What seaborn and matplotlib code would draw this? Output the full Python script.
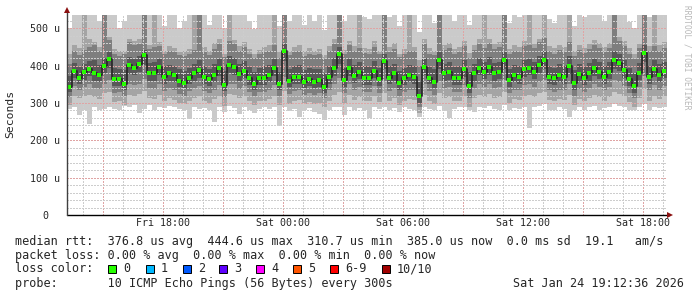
import numpy as np
import pandas as pd
import matplotlib
matplotlib.use("Agg")
import matplotlib.pyplot as plt
import matplotlib.dates as mdates
from matplotlib.ticker import FuncFormatter, MultipleLocator
from matplotlib.patches import Rectangle
import seaborn as sns

# ---------------- data (microseconds) ----------------
start_time = "2026-01-23 13:12:36"
n_steps = 120  # 15 minute steps

median = [344, 386, 368, 384, 391, 381, 375, 399, 418, 364, 364, 351, 402, 395, 404, 428, 379, 379, 397, 370,
          379, 374, 360, 354, 368, 379, 388, 370, 364, 375, 395, 348, 402, 397, 378, 386, 366, 351, 366, 366,
          375, 395, 352, 440, 360, 370, 370, 357, 363, 357, 361, 344, 370, 395, 430, 361, 393, 372, 384, 366,
          366, 386, 364, 413, 368, 379, 353, 366, 375, 370, 318, 397, 368, 357, 415, 379, 382, 366, 366, 390,
          345, 379, 395, 384, 397, 379, 384, 415, 361, 375, 370, 390, 395, 384, 402, 415, 370, 366, 375, 370,
          400, 353, 378, 366, 379, 393, 384, 370, 384, 415, 406, 388, 363, 345, 381, 435, 370, 390, 375, 386]

ping7 = [372, 408, 396, 405, 412, 414, 402, 420, 436, 395, 392, 388, 424, 418, 425, 442, 408, 410, 418, 398,
         402, 400, 392, 386, 395, 405, 414, 398, 392, 404, 418, 385, 425, 420, 405, 412, 396, 384, 395, 398,
         402, 418, 384, 458, 392, 398, 402, 388, 395, 390, 392, 380, 400, 420, 450, 395, 418, 402, 410, 398,
         396, 412, 394, 432, 398, 405, 386, 395, 402, 400, 356, 420, 396, 390, 436, 405, 410, 396, 398, 414,
         382, 405, 420, 410, 422, 406, 410, 436, 392, 402, 398, 414, 418, 410, 425, 438, 400, 395, 404, 398,
         425, 388, 405, 396, 406, 418, 410, 398, 410, 438, 430, 414, 394, 380, 408, 455, 400, 415, 404, 410]

ping8 = [405, 440, 428, 442, 450, 455, 438, 540, 468, 432, 425, 430, 462, 455, 458, 540, 445, 450, 452, 430,
         438, 436, 428, 425, 432, 442, 540, 436, 428, 445, 458, 422, 465, 458, 440, 450, 432, 420, 430, 436,
         440, 455, 420, 540, 428, 436, 440, 425, 432, 428, 430, 418, 438, 458, 540, 430, 455, 440, 448, 435,
         432, 450, 430, 540, 436, 445, 422, 432, 440, 438, 398, 458, 432, 428, 540, 442, 448, 432, 436, 452,
         420, 442, 458, 448, 460, 445, 450, 540, 430, 440, 436, 452, 455, 448, 462, 475, 438, 432, 442, 436,
         462, 425, 442, 434, 445, 455, 448, 436, 448, 540, 466, 452, 432, 418, 446, 540, 438, 452, 440, 448]

ping9 = [430, 455, 448, 540, 470, 462, 450, 540, 478, 445, 438, 440, 472, 465, 470, 540, 455, 540, 462, 440,
         452, 448, 436, 440, 445, 540, 540, 450, 440, 460, 470, 432, 540, 468, 452, 462, 445, 430, 442, 450,
         455, 540, 436, 540, 440, 450, 455, 438, 446, 440, 444, 428, 452, 470, 540, 442, 465, 452, 540, 448,
         445, 465, 440, 540, 450, 460, 432, 445, 540, 450, 415, 470, 446, 438, 540, 456, 460, 445, 450, 465,
         435, 456, 470, 540, 472, 458, 462, 540, 444, 455, 450, 465, 540, 458, 472, 540, 452, 446, 456, 450,
         540, 440, 456, 448, 458, 468, 460, 450, 460, 540, 476, 465, 446, 432, 458, 540, 452, 540, 455, 462]

ping10 = [500, 540, 540, 540, 540, 560, 520, 560, 560, 540, 500, 520, 560, 540, 560, 560, 540, 560, 540, 505,
          540, 560, 500, 520, 540, 560, 560, 540, 510, 560, 560, 500, 560, 560, 540, 560, 520, 498, 540, 560,
          540, 560, 505, 560, 520, 560, 540, 510, 560, 520, 540, 495, 540, 560, 560, 520, 560, 540, 560, 530,
          525, 560, 540, 560, 530, 560, 505, 540, 560, 540, 490, 560, 540, 515, 560, 560, 540, 520, 560, 560,
          510, 540, 560, 560, 560, 540, 560, 560, 515, 540, 530, 560, 560, 540, 560, 560, 525, 515, 560, 540,
          560, 505, 540, 530, 560, 560, 540, 520, 560, 560, 560, 540, 518, 500, 540, 560, 530, 560, 540, 560]

ping4 = [330, 366, 350, 362, 372, 360, 356, 380, 395, 345, 346, 335, 378, 375, 382, 402, 360, 358, 376, 352,
         360, 356, 344, 338, 350, 360, 366, 352, 346, 356, 372, 332, 380, 376, 360, 366, 348, 336, 348, 348,
         356, 372, 336, 412, 342, 352, 352, 340, 346, 340, 344, 328, 352, 372, 405, 344, 372, 354, 364, 348,
         348, 366, 346, 390, 350, 360, 336, 348, 356, 352, 300, 376, 350, 340, 392, 360, 362, 348, 348, 370,
         328, 360, 375, 365, 376, 360, 365, 392, 344, 356, 352, 370, 375, 365, 380, 392, 352, 348, 356, 352,
         378, 336, 358, 348, 360, 372, 365, 352, 365, 392, 385, 368, 345, 328, 362, 410, 352, 370, 356, 366]

ping3 = [315, 345, 335, 342, 350, 340, 338, 352, 362, 328, 330, 318, 350, 348, 352, 365, 340, 338, 350, 332,
         340, 335, 325, 320, 332, 340, 345, 332, 326, 336, 348, 315, 352, 350, 338, 345, 330, 318, 330, 330,
         336, 348, 318, 370, 325, 332, 334, 322, 328, 322, 326, 312, 334, 350, 368, 326, 350, 335, 342, 330,
         330, 345, 328, 360, 332, 340, 318, 330, 336, 334, 290, 352, 332, 322, 358, 340, 342, 330, 330, 348,
         312, 340, 352, 344, 352, 340, 344, 362, 326, 336, 334, 348, 350, 344, 355, 362, 334, 330, 336, 334,
         352, 318, 338, 330, 340, 350, 344, 334, 344, 362, 355, 346, 328, 312, 342, 372, 334, 348, 336, 346]

ping2 = [295, 318, 312, 320, 322, 315, 310, 326, 330, 302, 306, 295, 322, 320, 325, 332, 314, 310, 322, 305,
         314, 308, 300, 296, 305, 314, 318, 306, 300, 310, 320, 292, 325, 322, 312, 318, 305, 294, 304, 305,
         310, 320, 294, 332, 298, 305, 308, 296, 302, 298, 300, 288, 306, 322, 330, 300, 322, 308, 315, 304,
         305, 318, 302, 328, 306, 314, 294, 304, 310, 308, 272, 322, 306, 298, 326, 312, 315, 305, 304, 320,
         290, 312, 322, 316, 324, 312, 316, 330, 300, 310, 308, 320, 322, 316, 326, 330, 308, 304, 310, 308,
         322, 294, 310, 304, 312, 322, 316, 306, 316, 330, 325, 318, 302, 290, 314, 338, 306, 320, 310, 318]

ping1 = [285, 290, 268, 282, 245, 288, 282, 284, 290, 285, 280, 292, 288, 295, 272, 285, 294, 282, 290, 286,
         292, 288, 285, 280, 258, 290, 284, 286, 280, 250, 288, 276, 292, 286, 270, 288, 280, 272, 285, 290,
         285, 288, 238, 290, 278, 284, 262, 280, 286, 276, 270, 254, 282, 290, 288, 268, 290, 282, 286, 280,
         260, 288, 284, 290, 282, 286, 275, 288, 284, 280, 262, 290, 284, 280, 292, 278, 260, 285, 288, 290,
         280, 276, 290, 286, 292, 284, 282, 294, 280, 286, 284, 290, 232, 288, 292, 296, 282, 280, 288, 284,
         262, 282, 288, 280, 290, 292, 282, 286, 290, 296, 292, 288, 282, 280, 290, 298, 282, 290, 286, 288]

y_ticks = [0, 100, 200, 300, 400, 500]
legend_rows = [
    "median rtt:  376.8 us avg  444.6 us max  310.7 us min  385.0 us now  0.0 ms sd  19.1   am/s",
    "packet loss: 0.00 % avg  0.00 % max  0.00 % min  0.00 % now",
]
loss_labels = ["0", "1", "2", "3", "4", "5", "6-9", "10/10"]
loss_colors = ["#26ff00", "#00b8ff", "#0059ff", "#5e00ff", "#ff00ff", "#ff5500", "#ff0000", "#a10000"]
probe_text = "probe:       10 ICMP Echo Pings (56 Bytes) every 300s"
date_text = "Sat Jan 24 19:12:36 2026"

# ---------------- figure ----------------
sns.set_style("white")
plt.rcParams["font.family"] = ["DejaVu Sans Mono", "DejaVu Sans"]

W, H = 697, 297
fig = plt.figure(figsize=(W / 100, H / 100), dpi=100)
fig.patch.set_facecolor("white")
ax_l, ax_r, ax_t, ax_b = 66.7, 666.7, 15.0, 215.0
ax = fig.add_axes([ax_l / W, 1 - ax_b / H, (ax_r - ax_l) / W, (ax_b - ax_t) / H])
ax.set_facecolor("white")

t0 = pd.Timestamp(start_time)
edges = pd.date_range(t0, periods=n_steps + 1, freq="15min")
centers = edges[:-1] + pd.Timedelta(minutes=7.5)

def ext(a):
    a = np.asarray(a, dtype=float)
    return np.append(a, a[-1])

shades = ["#cacaca", "#a4a4a4", "#7e7e7e", "#585858"]
pairs = [(ping1, ping10), (ping2, ping9), (ping3, ping8), (ping4, ping7)]
for (lo, hi), c in zip(pairs, shades):
    ax.fill_between(edges, ext(lo), ext(hi), step="post", color=c, linewidth=0, zorder=1)

# grid (drawn above smoke like rrdtool), crisp dotted
ax.set_ylim(0, 535.6)
ax.set_xlim(edges[0], edges[-1])
ax.yaxis.set_major_locator(MultipleLocator(100))
ax.yaxis.set_minor_locator(MultipleLocator(20))
ax.xaxis.set_major_locator(mdates.HourLocator(byhour=range(0, 24, 3)))
ax.xaxis.set_minor_locator(mdates.HourLocator())

def xfmt(x, pos):
    d = mdates.num2date(x)
    return d.strftime("%a %H:%M") if d.hour % 6 == 0 else ""

ax.xaxis.set_major_formatter(FuncFormatter(xfmt))
ax.yaxis.set_major_formatter(FuncFormatter(lambda v, p: "0" if v == 0 else f"{int(round(v))} u"))
ax.grid(which="minor", color="#cdcdcd", linestyle=(0, (1, 1)), linewidth=1.0,
        antialiased=False, zorder=2)
ax.grid(which="major", color="#e0a4a4", linestyle=(0, (1, 1)), linewidth=1.0,
        antialiased=False, zorder=2)
ax.set_axisbelow(False)

# median
sns.lineplot(x=centers, y=median, ax=ax, color="#262626", linewidth=1.2,
             drawstyle="steps-mid", zorder=3, legend=False)
sns.scatterplot(x=centers, y=median, ax=ax, marker="s", s=8, color=loss_colors[0],
                linewidth=0, zorder=4, legend=False)
ax.set_xlabel("")
ax.set_ylabel("")

ax.tick_params(axis="both", which="both", length=0)
ax.tick_params(axis="y", pad=15.6, labelsize=7.2)
ax.tick_params(axis="x", pad=2.5, labelsize=7.2)
for lbl in ax.get_yticklabels():
    lbl.set_horizontalalignment("center")

for s in ax.spines.values():
    s.set_visible(False)
# axes lines with arrows
ax.plot([0, 1.003], [0, 0], transform=ax.transAxes, color="black", lw=1.0, clip_on=False, zorder=5)
ax.plot([0, 0], [0, 1.02], transform=ax.transAxes, color="#404040", lw=1.0, clip_on=False, zorder=5)
ax.plot([1.0058], [0], transform=ax.transAxes, marker=">", markersize=4, color="#8b1010",
        clip_on=False, zorder=6, markeredgewidth=0)
ax.plot([0], [1.025], transform=ax.transAxes, marker="^", markersize=4, color="#8b1010",
        clip_on=False, zorder=6, markeredgewidth=0)

# texts
fig.text(10.7 / W, 1 - 113.5 / H, "Seconds", rotation=90, ha="center", va="center", fontsize=8.2)
fig.text(687.5 / W, 1 - 5 / H, "RRDTOOL / TOBI OETIKER", rotation=270, ha="center", va="top",
         fontsize=5.7, color="#b8b8b8")

fs = 8.5
row_y = [241.7, 255.0, 269.0, 283.3]
fig.text(15 / W, 1 - row_y[0] / H, legend_rows[0], ha="left", va="center", fontsize=fs)
fig.text(15 / W, 1 - row_y[1] / H, legend_rows[1], ha="left", va="center", fontsize=fs)
fig.text(15 / W, 1 - row_y[2] / H, "loss color:", ha="left", va="center", fontsize=fs)
sq_x = [108.3, 145.7, 182.7, 219.3, 256.0, 293.3, 330.0, 381.7]
for x, lab, c in zip(sq_x, loss_labels, loss_colors):
    fig.patches.append(Rectangle((x / W, 1 - 273 / H), 8 / W, 8 / H, transform=fig.transFigure,
                                 facecolor=c, edgecolor="black", linewidth=0.7))
    fig.text((x + 15) / W, 1 - row_y[2] / H, lab, ha="left", va="center", fontsize=fs)
fig.text(15 / W, 1 - row_y[3] / H, probe_text, ha="left", va="center", fontsize=fs)
fig.text(513.3 / W, 1 - row_y[3] / H, date_text, ha="left", va="center", fontsize=fs)

fig.savefig("out.png", dpi=100, facecolor="white")
